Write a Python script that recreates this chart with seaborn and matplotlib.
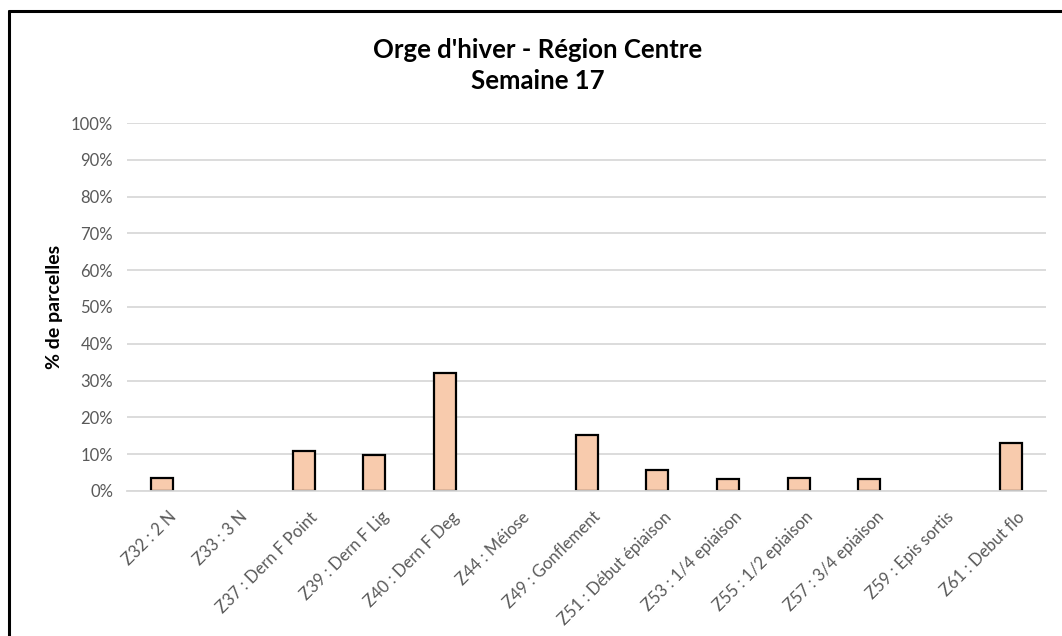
import matplotlib
matplotlib.use("Agg")
import matplotlib.pyplot as plt
import seaborn as sns
import pandas as pd
from matplotlib.ticker import PercentFormatter
from matplotlib.lines import Line2D

categories = ["Z32 : 2 N", "Z33 : 3 N", "Z37 : Dern F Point", "Z39 : Dern F Lig",
              "Z40 : Dern F Deg", "Z44 : Méiose", "Z49 : Gonflement",
              "Z51 : Début épiaison", "Z53 : 1/4 epiaison", "Z55 : 1/2 epiaison",
              "Z57 : 3/4 epiaison", "Z59 : Epis sortis", "Z61 : Debut flo"]
values = [0.034, 0.0, 0.11, 0.099, 0.321, 0.0, 0.152, 0.058, 0.032, 0.035, 0.032, 0.0, 0.131]

df = pd.DataFrame({"stade": categories, "part": values})

sns.set_theme(style="white")
plt.rcParams['font.family'] = ['Lato', 'DejaVu Sans']

fig = plt.figure(figsize=(10.62, 6.36), dpi=100)
ax = fig.add_axes([0.1196, 0.228, 0.8654, 0.5786])

sns.barplot(data=df, x="stade", y="part", ax=ax, color="#F8CBAD",
            edgecolor="black", linewidth=1.6, width=0.31, saturation=1)
for p in ax.patches:
    if p.get_height() == 0:
        p.set_linewidth(0)

ax.set_ylim(0, 1.0)
ax.set_xlim(-0.5, len(categories) - 0.5)
ax.set_yticks([i / 10 for i in range(11)])
ax.yaxis.set_major_formatter(PercentFormatter(1.0, decimals=0))
ax.grid(axis="y", color="#d9d9d9", linewidth=1.3)
ax.set_axisbelow(True)
for s in ["top", "right", "left"]:
    ax.spines[s].set_visible(False)
ax.spines["bottom"].set_color("#d9d9d9")
ax.spines["bottom"].set_linewidth(1.3)
ax.tick_params(axis="both", length=0, colors="#595959", labelsize=12)
ax.tick_params(axis="y", pad=10)
ax.set_xlabel("")
ax.set_xticks(range(len(categories)))
ax.set_xticklabels(categories, rotation=45, ha="right", rotation_mode="anchor")
for lbl in ax.get_xticklabels():
    lbl.set_transform(lbl.get_transform() + matplotlib.transforms.ScaledTranslation(6/100, -13/100, fig.dpi_scale_trans))
ax.set_ylabel("% de parcelles", fontsize=14, fontweight="bold", color="black", labelpad=6)

fig.text(0.506, 0.922, "Orge d'hiver - Région Centre", ha="center", va="center",
         fontsize=18.5, fontweight="bold", color="black")
fig.text(0.506, 0.872, "Semaine 17", ha="center", va="center",
         fontsize=18.5, fontweight="bold", color="black")

fig.add_artist(Line2D([0.0085, 0.0085], [0.0, 0.983], transform=fig.transFigure, color="black", linewidth=2.2))
fig.add_artist(Line2D([0.0085, 1.0], [0.983, 0.983], transform=fig.transFigure, color="black", linewidth=2.2))

fig.savefig("out.png", dpi=100, facecolor="white")
